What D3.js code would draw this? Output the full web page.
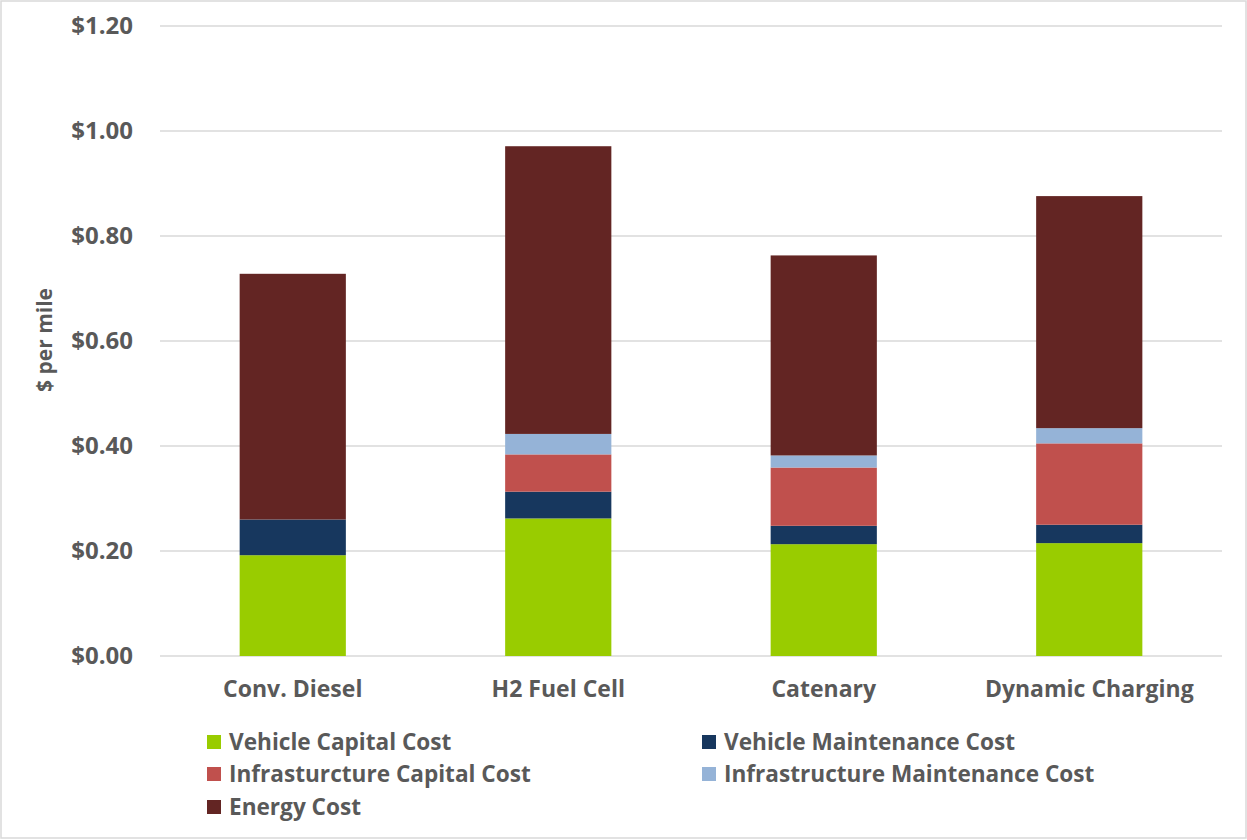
<!DOCTYPE html>
<html><head><meta charset="utf-8">
<script src="https://cdn.jsdelivr.net/npm/d3@7"></script>
<style>
body{margin:0;background:#fff;}
text{font-family:"Open Sans",sans-serif;font-weight:bold;fill:#595959;}
</style></head>
<body><svg id="chart" width="1247" height="840"></svg>
<script>
const categories = ["Conv. Diesel", "H2 Fuel Cell", "Catenary", "Dynamic Charging"];
const seriesNames = ["Vehicle Capital Cost", "Vehicle Maintenance Cost", "Infrasturcture Capital Cost", "Infrastructure Maintenance Cost", "Energy Cost"];
const vehicleCapital = [0.192, 0.262, 0.213, 0.215];
const vehicleMaint = [0.068, 0.051, 0.035, 0.035];
const infraCapital = [0.0, 0.071, 0.111, 0.155];
const infraMaint = [0.0, 0.039, 0.023, 0.029];
const energy = [0.468, 0.548, 0.381, 0.442];
const colors = ["#99cc00", "#17375e", "#c0504d", "#95b3d7", "#632523"];
const yTicks = [0, 0.2, 0.4, 0.6, 0.8, 1.0, 1.2];

const seriesValues = [vehicleCapital, vehicleMaint, infraCapital, infraMaint, energy];
const svg = d3.select("#chart");
svg.append("rect").attr("x",1).attr("y",1).attr("width",1245).attr("height",837)
  .attr("fill","#fff").attr("stroke","#d9d9d9").attr("stroke-width",1.5);

const x = d3.scaleBand().domain(categories).range([160, 1222]).paddingInner(0.6).paddingOuter(0.3);
const y = d3.scaleLinear().domain([0, 1.2]).range([656, 26]);

svg.append("g").selectAll("line").data(yTicks).join("line")
  .attr("x1",160).attr("x2",1222).attr("y1",d=>y(d)).attr("y2",d=>y(d))
  .attr("stroke","#d9d9d9").attr("stroke-width",1.5);

const yAxis = d3.axisLeft(y).tickValues(yTicks).tickFormat(d=>"$"+d.toFixed(2)).tickSize(0).tickPadding(27);
const ga = svg.append("g").attr("transform","translate(160,0)").call(yAxis);
ga.select(".domain").remove();
ga.attr("font-size",null).attr("font-family",null);
ga.selectAll("text").attr("font-size",24).attr("fill",null);

const xAxis = d3.axisBottom(x).tickSize(0).tickPadding(25);
const gx = svg.append("g").attr("transform","translate(0,656)").call(xAxis);
gx.select(".domain").remove();
gx.attr("font-size",null).attr("font-family",null);
gx.selectAll("text").attr("font-size",23).attr("fill",null);

const rows = categories.map((c,i)=>{const o={cat:c}; seriesNames.forEach((s,j)=>o[s]=seriesValues[j][i]); return o;});
const stack = d3.stack().keys(seriesNames)(rows);
svg.append("g").selectAll("g").data(stack).join("g").attr("fill",(d,i)=>colors[i])
  .selectAll("rect").data(d=>d).join("rect")
  .attr("x",d=>x(d.data.cat)).attr("width",x.bandwidth())
  .attr("y",d=>y(d[1])).attr("height",d=>Math.max(0,y(d[0])-y(d[1])));

svg.append("text").attr("transform","translate(52,340) rotate(-90)").attr("text-anchor","middle")
  .attr("font-size",21).text("$ per mile");

const legPos = [[207,742],[702,742],[207,774],[702,774],[207,807]];
const lg = svg.append("g").selectAll("g").data(seriesNames).join("g")
  .attr("transform",(d,i)=>`translate(${legPos[i][0]},${legPos[i][1]})`);
lg.append("rect").attr("x",0).attr("y",-7).attr("width",14).attr("height",14).attr("fill",(d,i)=>colors[i]);
lg.append("text").attr("x",22).attr("y",0).attr("dy","0.35em").attr("font-size",22.6).text(d=>d);
</script></body></html>
